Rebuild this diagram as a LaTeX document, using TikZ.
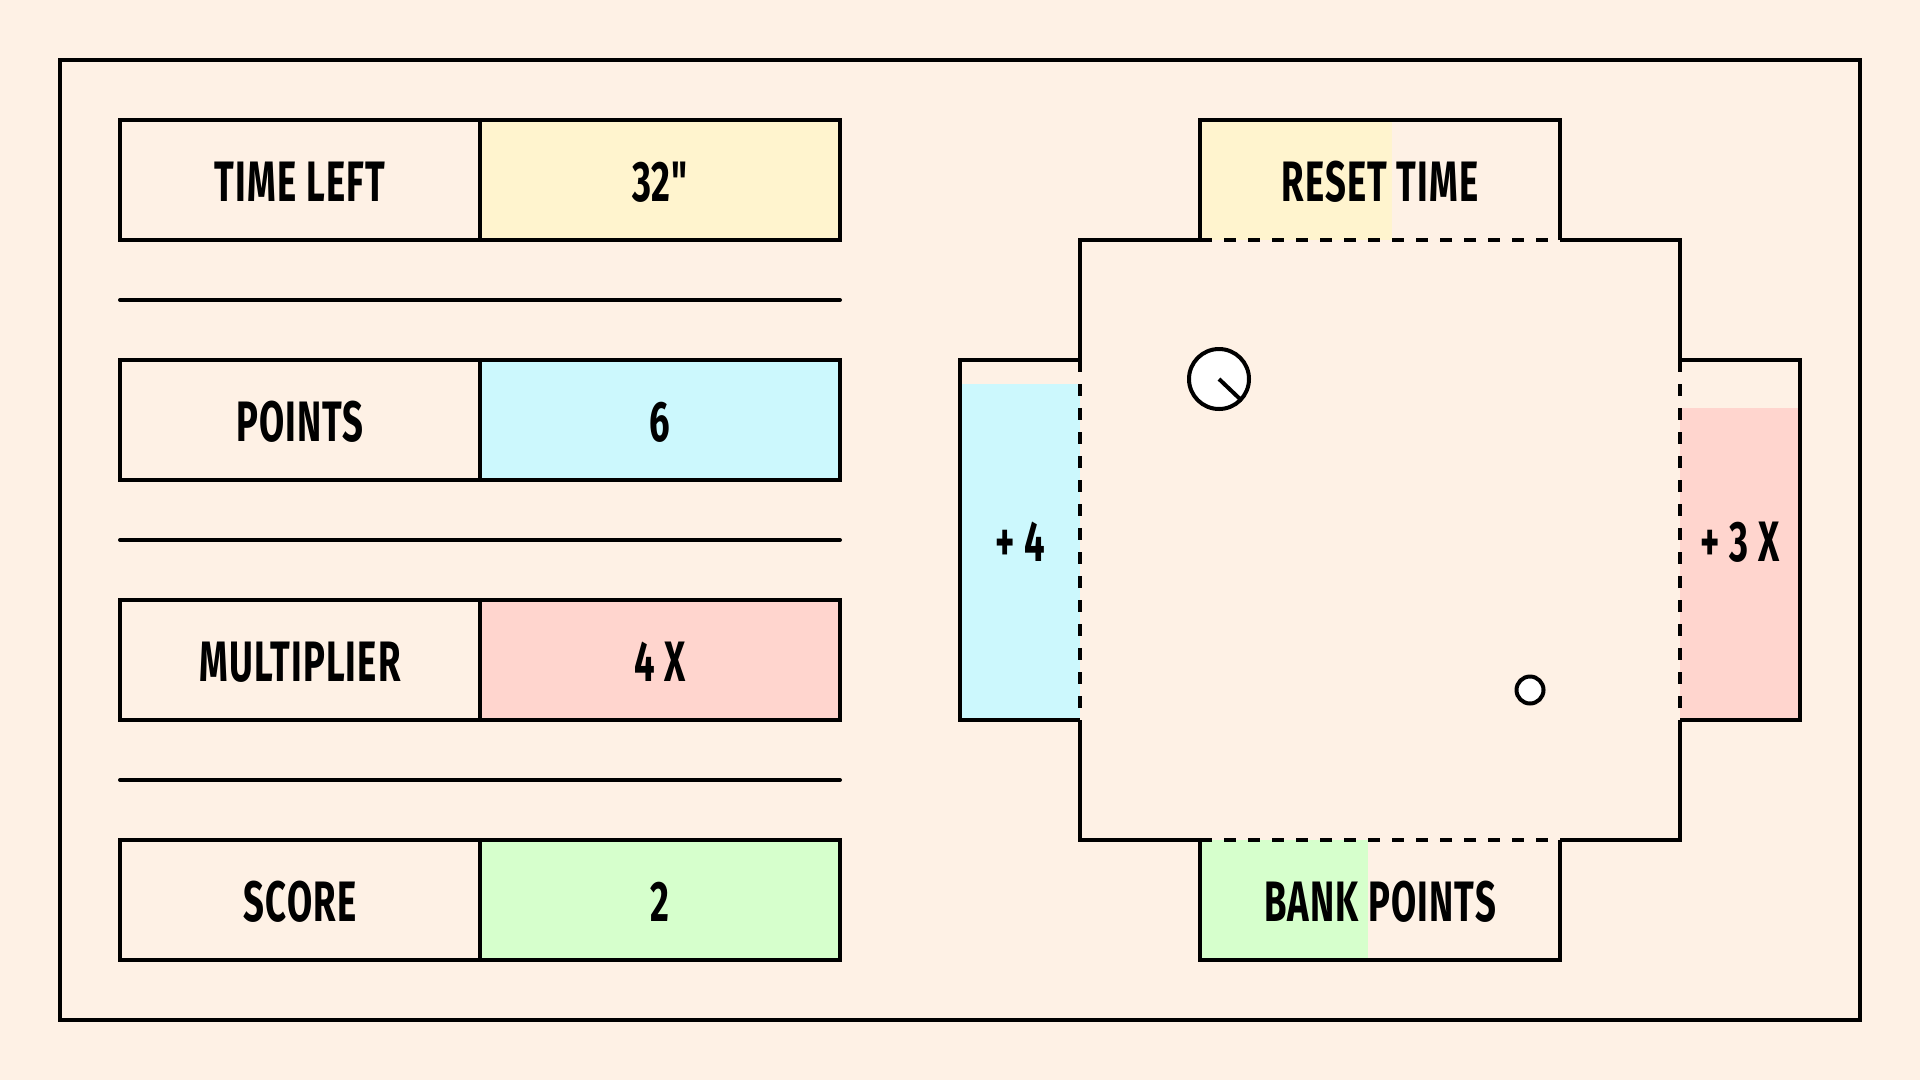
\documentclass[tikz,border=0pt]{standalone}
\usepackage{fontspec}
\newfontfamily\lblfam[FakeStretch=0.64, LetterSpace=2]{Fira Sans}
\newcommand{\lbl}{\lblfam\bfseries\fontsize{57}{60}\selectfont}
\definecolor{bgc}{HTML}{FEF1E5}
\definecolor{yel}{HTML}{FFF4CE}
\definecolor{blu}{HTML}{CCF8FD}
\definecolor{pnk}{HTML}{FFD5CE}
\definecolor{grn}{HTML}{D6FFCC}
\tikzset{
  cell/.style={draw, minimum width=360pt, minimum height=120pt, inner sep=0pt, font=\lbl, text height=43pt, text depth=0pt},
  tablbl/.style={inner sep=0pt, font=\lbl, text height=43pt, text depth=0pt},
  sepline/.style={line cap=round},
  gate/.style={dash pattern=on 12pt off 12pt},
}
\begin{document}
\begin{tikzpicture}[x=1pt, y=-1pt, line width=4pt]
\fill[bgc] (0,0) rectangle (1920,1080);
\useasboundingbox (0,0) rectangle (1920,1080);
% outer frame
\draw (60,60) rectangle (1860,1020);
% left table
\node[cell] (tl)  at (300,180) {TIME LEFT};
\node[cell, fill=yel] (tlv) at (660,180) {32"};
\node[cell] (pt)  at (300,420) {POINTS};
\node[cell, fill=blu] (ptv) at (660,420) {6};
\node[cell] (mu)  at (300,660) {MULTIPLIER};
\node[cell, fill=pnk] (muv) at (660,660) {4 X};
\node[cell] (sc)  at (300,900) {SCORE};
\node[cell, fill=grn] (scv) at (660,900) {2};
\draw[sepline] (120,300) -- (840,300);
\draw[sepline] (120,540) -- (840,540);
\draw[sepline] (120,780) -- (840,780);
% tab fills
\fill[yel] (1200,120) rectangle (1392,240);
\fill[grn] (1200,840) rectangle (1368,960);
\fill[blu] (960,384) rectangle (1080,720);
\fill[pnk] (1680,408) rectangle (1800,720);
% board square: solid parts
\draw (1080,360) -- (1080,240) -- (1200,240);
\draw (1560,240) -- (1680,240) -- (1680,360);
\draw (1680,720) -- (1680,840) -- (1560,840);
\draw (1200,840) -- (1080,840) -- (1080,720);
% tabs outlines
\draw (1200,240) -- (1200,120) -- (1560,120) -- (1560,240);
\draw (1200,840) -- (1200,960) -- (1560,960) -- (1560,840);
\draw (1080,360) -- (960,360) -- (960,720) -- (1080,720);
\draw (1680,360) -- (1800,360) -- (1800,720) -- (1680,720);
% gates (dashed)
\draw[gate] (1200,240) -- (1560,240);
\draw[gate] (1200,840) -- (1560,840);
\draw[gate] (1080,360) -- (1080,720);
\draw[gate] (1680,360) -- (1680,720);
% tab labels
\node[tablbl] (reset) at (1380,180) {RESET TIME};
\node[tablbl] (bank)  at (1380,900) {BANK POINTS};
\node[tablbl] (plus4) at (1020,540) {+ 4};
\node[tablbl] (plus3) at (1740,540) {+ 3 X};
% timer and ball
\node[circle, draw, fill=white, minimum size=60pt, inner sep=0pt] (timer) at (1219,379) {};
\coordinate (hand) at (1240,399);
\draw (timer.center) -- (hand);
\node[circle, draw, fill=white, minimum size=27pt, inner sep=0pt] (ball) at (1530,690) {};
\end{tikzpicture}
\end{document}
